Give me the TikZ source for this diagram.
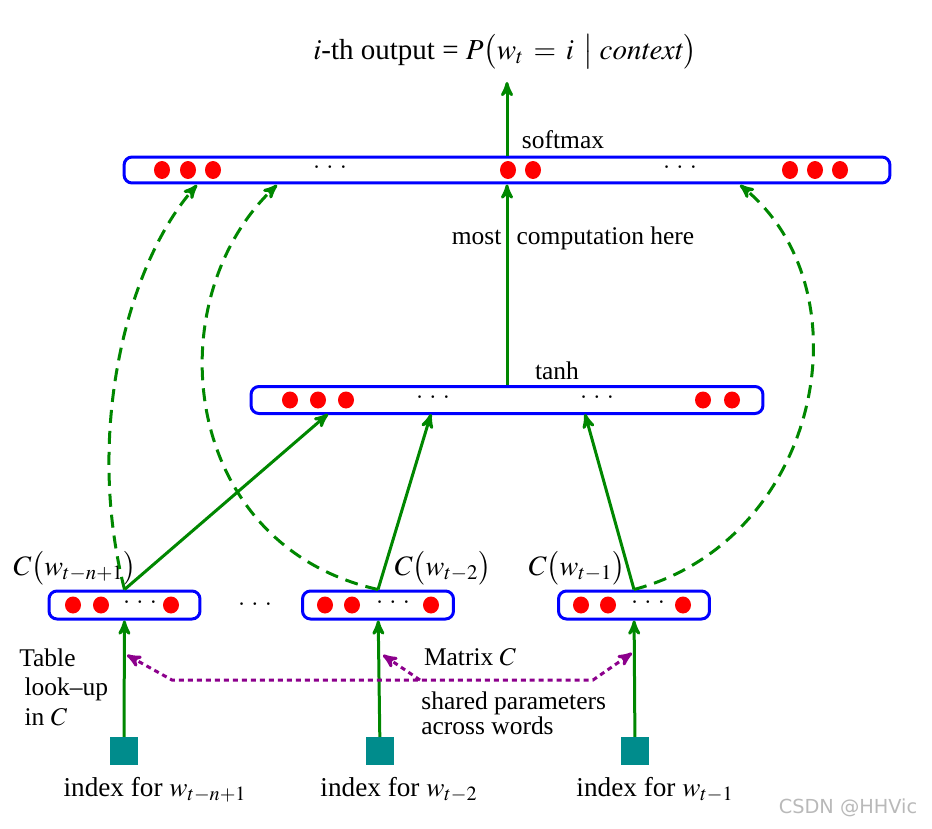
\documentclass[tikz,border=0pt]{standalone}
\usepackage{mathptmx}
\usepackage{fontspec}
\setmainfont{Liberation Serif}
\setsansfont{DejaVu Sans}
\usepackage{tikz}
\usetikzlibrary{arrows,calc,positioning,shapes}
\definecolor{linkgreen}{RGB}{0,135,0}
\definecolor{layerblue}{RGB}{0,0,255}
\definecolor{lookup}{RGB}{0,140,140}
\definecolor{shared}{RGB}{140,0,140}
\tikzset{%
	layer/.style    = {draw=layerblue, rectangle, rounded corners=0.16cm, line width=0.06cm, inner sep=0pt},
	wide/.style     = {layer, minimum width=15.32cm, minimum height=0.52cm}, % softmax layer
	hidden/.style   = {layer, minimum width=10.24cm, minimum height=0.54cm}, % tanh layer
	embed/.style    = {layer, minimum width=3.02cm, minimum height=0.56cm}, % word features
	index/.style    = {fill=lookup, rectangle, minimum size=0.55cm, inner sep=0pt},
	unit/.style     = {fill=red},
	mathlbl/.style  = {font=\fontsize{16}{19}\selectfont},
	link/.style     = {draw=linkgreen, line width=0.06cm, ->},
	skip/.style     = {link, dash pattern=on 0.26cm off 0.16cm},
	share/.style    = {draw=shared, line width=0.06cm, dash pattern=on 0.1cm off 0.08cm},
	waypoint/.style = {coordinate},
}

\begin{document}
\begin{tikzpicture}[x=0.02cm,y=-0.02cm,>=stealth',font=\fontsize{14.5}{17}\selectfont]
	\useasboundingbox (0,0) rectangle (932,828);
	% layers
	\node [wide] (soft) at (507,170) {};
	\node [hidden] (tanh) at (507,400) {};
	\node [embed] (e1) at (124.5,605) {};
	\node [embed] (e2) at (378,605) {};
	\node [embed] (e3) at (634,605) {};
	\foreach \x in {162,188,213,508,533,790,815,840} \fill[unit] (\x,170) ellipse (0.16cm and 0.18cm);
	\foreach \x in {290,318,346,703,732} \fill[unit] (\x,400) ellipse (0.16cm and 0.17cm);
	\foreach \x in {73,101,171,325,352,431,581,608,683} \fill[unit] (\x,605) ellipse (0.16cm and 0.17cm);
	\foreach \x/\y [count=\i] in {330/168,680/168,433/398,597/398,140/603,393/603,648/603,255/605}
		\node (dd\i) at (\x,\y) {$\cdot\,\cdot\,\cdot$};
	
	\node [font=\fontsize{16.5}{19}\selectfont] (out) at (505,52) {$i$-th output = $P\bigl(w_t \,=\, i\,\bigm|\mathit{context}\bigr)$};
	\node (softlbl) at (563,140) {softmax};
	\node (most) at (573,238) {most\hspace{0.6em}computation here};
	\node (tanhlbl) at (557,371) {tanh};
	\node [mathlbl] (c1) at (75,568) {$C\bigl(w_{t-n+1}\bigr)$};
	\node [mathlbl] (c2) at (443,568) {$C\bigl(w_{t-2}\bigr)$};
	\node [mathlbl] (c3) at (577,568) {$C\bigl(w_{t-1}\bigr)$};
	
	\node [index] (i1) at (124,751) {};
	\node [index] (i2) at (380,751) {};
	\node [index] (i3) at (635,751) {};
	\node [font=\fontsize{15.5}{18}\selectfont] (l1) at (155,790) {index for $w_{t-n+1}$};
	\node [font=\fontsize{15.5}{18}\selectfont] (l2) at (399,790) {index for $w_{t-2}$};
	\node [font=\fontsize{15.5}{18}\selectfont] (l3) at (655,790) {index for $w_{t-1}$};
	
	\node [align=left,anchor=north west,inner sep=0pt] (table) at (19,648) {Table\\\hspace{3pt}look--up\\\hspace{3pt}in $C$};
	\node (matrix) at (470,657) {Matrix $C$};
	\node [align=left,anchor=north west,inner sep=0pt,font=\fontsize{14.5}{14.5}\selectfont] (words) at (421,691) {shared parameters\\across words};
	\node [text=gray!55,font=\sffamily\fontsize{11}{13}\selectfont] (mark) at (848,808) {CSDN @HHVic};
	
	\node [waypoint] (outtip) at (507,82) {};
	\node [waypoint] (h1) at (328,414) {};
	\node [waypoint] (h2) at (431,414) {};
	\node [waypoint] (h3) at (585,414) {};
	\node [waypoint] (s1) at (197,185) {};
	\node [waypoint] (s2) at (277,185) {};
	\node [waypoint] (s3) at (740,185) {};
	\node [waypoint] (p1) at (127,655) {};
	\node [waypoint] (p2) at (383,655) {};
	\node [waypoint] (p3) at (632,653) {};
	\node [waypoint] (m1) at (172,680) {};
	\node [waypoint] (m2) at (593,680) {};
	\node [waypoint] (mj) at (420,680) {};
	
	\draw[link] (soft.north) -- (outtip);
	\draw[link] (tanh.north) -- (soft.south);
	\draw[link] (e1.north) -- (h1);
	\draw[link] (e2.north) -- (h2);
	\draw[link] (e3.north) -- (h3);
	\draw[link] (i1) -- (e1);
	\draw[link] (i2) -- (e2);
	\draw[link] (i3) -- (e3);
	\draw[skip] (e1.north) .. controls (84,430) and (128,262) .. (s1);
	\draw[skip] (e2.north) .. controls (180,545) and (155,300) .. (s2);
	\draw[skip] (e3.north) .. controls (820,540) and (870,290) .. (s3);
	\draw[share,<->] (p1) -- (m1) -- (m2) -- (p3);
	\draw[share,->] (mj) -- (p2);
\end{tikzpicture}
\end{document}
